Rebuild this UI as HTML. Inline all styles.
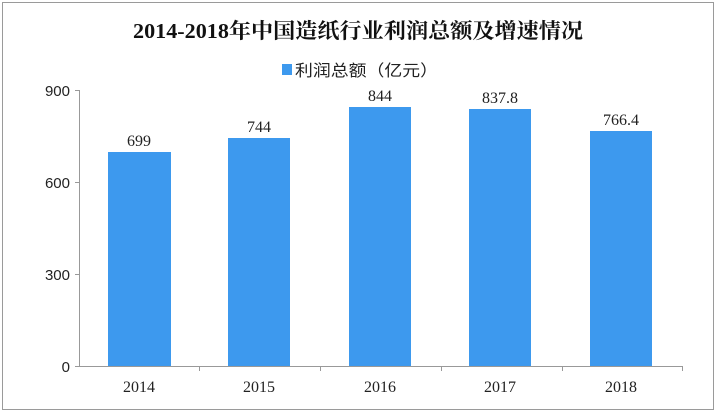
<!DOCTYPE html>
<html><head><meta charset="utf-8"><style>
body{margin:0;background:#fff;}
</style></head><body>
<svg width="717" height="415" xmlns="http://www.w3.org/2000/svg" style="display:block">
<rect x="2.5" y="2.5" width="711" height="407" fill="#fff" stroke="#9a9a9a" stroke-width="1"/>
<text x="358" y="38" text-anchor="middle" font-family="'Liberation Serif','Noto Serif CJK SC',serif" font-size="21" font-weight="bold" fill="#111" textLength="450" lengthAdjust="spacingAndGlyphs">2014-2018年中国造纸行业利润总额及增速情况</text>
<rect x="282" y="64" width="10" height="11" fill="#3d99ee"/>
<text x="295" y="76" font-family="'Liberation Sans','Noto Sans CJK SC',sans-serif" font-size="16" fill="#222" textLength="143" lengthAdjust="spacingAndGlyphs">利润总额（亿元）</text>
<g font-family="'Liberation Sans',sans-serif" font-size="15" fill="#222" text-anchor="end">
<text x="70" y="96">900</text><text x="70" y="188">600</text><text x="70" y="280">300</text><text x="70" y="372">0</text>
</g>
<g stroke="#999" stroke-width="1">
<line x1="79.5" y1="90" x2="79.5" y2="366"/>
<line x1="75" y1="90.5" x2="79" y2="90.5"/><line x1="75" y1="182.5" x2="79" y2="182.5"/><line x1="75" y1="274.5" x2="79" y2="274.5"/><line x1="75" y1="366.5" x2="79" y2="366.5"/>
<line x1="79" y1="366.5" x2="683" y2="366.5"/>
<line x1="199.5" y1="366" x2="199.5" y2="371"/><line x1="320.5" y1="366" x2="320.5" y2="371"/><line x1="441.5" y1="366" x2="441.5" y2="371"/><line x1="562.5" y1="366" x2="562.5" y2="371"/><line x1="682.5" y1="366" x2="682.5" y2="371"/>
</g>
<g fill="#3d99ee">
<rect x="108" y="152" width="63" height="214"/>
<rect x="228" y="138" width="62" height="228"/>
<rect x="349" y="107" width="62" height="259"/>
<rect x="469" y="109" width="62" height="257"/>
<rect x="590" y="131" width="62" height="235"/>
</g>
<g font-family="'Liberation Serif',serif" font-size="16" fill="#222" text-anchor="middle">
<text x="139" y="146">699</text><text x="259" y="132">744</text><text x="380" y="101">844</text><text x="500" y="103">837.8</text><text x="621" y="125">766.4</text>
<text x="139" y="392">2014</text><text x="259" y="392">2015</text><text x="380" y="392">2016</text><text x="500" y="392">2017</text><text x="621" y="392">2018</text>
</g>
</svg>
</body></html>
